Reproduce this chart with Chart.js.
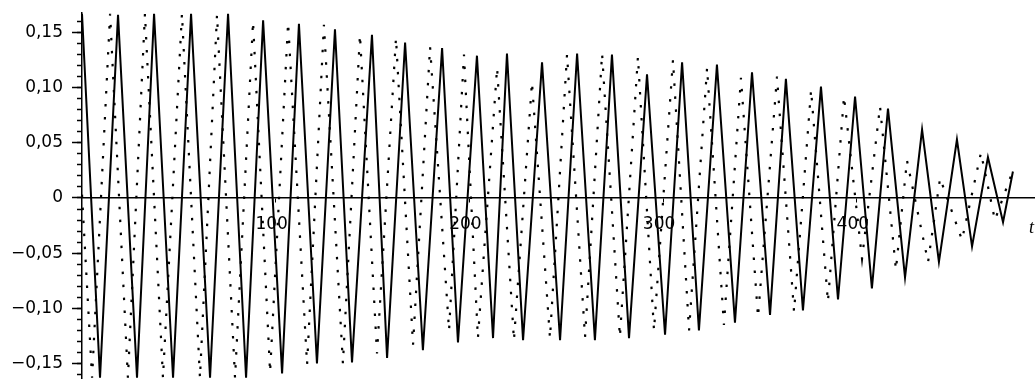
<!DOCTYPE html>
<html>
<head>
<meta charset="utf-8">
<script src="https://cdn.jsdelivr.net/npm/chart.js@4.4.1/dist/chart.umd.min.js"></script>
<style>
html,body{margin:0;padding:0;background:#fff;overflow:hidden}
canvas{display:block}
</style>
</head>
<body>
<canvas id="c" width="1035" height="379"></canvas>
<script>
// Solid curve: successive extrema (t, value)
const solidT = [0, 9.3, 18.6, 28.4, 37.2, 47.0, 56.3, 66.1, 75.4, 84.7, 93.5, 103.3, 112.0, 121.3, 130.6, 139.4, 149.7, 157.5, 166.8, 176.0, 185.9, 194.1, 203.9, 212.2, 219.4, 227.7, 237.5, 246.8, 255.6, 264.8, 273.6, 282.4, 291.7, 301.0, 309.8, 318.5, 327.8, 337.1, 345.9, 355.2, 363.4, 372.2, 381.5, 390.3, 399.1, 407.8, 416.1, 424.9, 433.7, 442.4, 451.7, 459.5, 467.7, 475.5, 480.6];
const solidV = [0.167, -0.163, 0.166, -0.163, 0.167, -0.163, 0.167, -0.163, 0.167, -0.163, 0.161, -0.159, 0.158, -0.150, 0.153, -0.149, 0.148, -0.145, 0.141, -0.138, 0.136, -0.131, 0.129, -0.127, 0.131, -0.129, 0.123, -0.129, 0.131, -0.129, 0.130, -0.127, 0.112, -0.124, 0.123, -0.120, 0.121, -0.113, 0.114, -0.106, 0.108, -0.102, 0.101, -0.092, 0.092, -0.082, 0.081, -0.072, 0.062, -0.058, 0.053, -0.044, 0.037, -0.022, 0.024];

// Dotted curve: successive extrema (t, value)
const dottedT = [0, 5.2, 14.5, 23.7, 32.5, 41.8, 51.6, 60.9, 69.7, 79.0, 88.3, 97.1, 106.4, 116.2, 124.9, 134.7, 143.5, 152.3, 162.1, 170.9, 179.7, 189.5, 197.2, 204.4, 214.3, 223.0, 232.3, 241.6, 250.4, 259.7, 268.5, 277.7, 287.0, 295.3, 305.1, 313.4, 322.7, 331.4, 340.2, 349.0, 358.8, 367.6, 376.4, 385.1, 393.4, 402.7, 412.0, 420.2, 425.9, 436.8, 443.0, 454.3, 464.1, 471.3, 480.6];
const dottedV = [0.003, -0.163, 0.167, -0.163, 0.167, -0.163, 0.167, -0.163, 0.166, -0.163, 0.160, -0.158, 0.159, -0.151, 0.157, -0.150, 0.148, -0.141, 0.145, -0.133, 0.137, -0.120, 0.130, -0.127, 0.118, -0.129, 0.105, -0.127, 0.130, -0.126, 0.131, -0.126, 0.128, -0.120, 0.125, -0.120, 0.118, -0.115, 0.109, -0.108, 0.110, -0.103, 0.098, -0.094, 0.092, -0.055, 0.083, -0.065, 0.034, -0.058, 0.018, -0.038, 0.041, -0.020, 0.025];

const xTicks = [100, 200, 300, 400];
const yMajorStep = 0.05;
const yMinorStep = 0.01;
const xAxisTitle = 't';

const fmtY = v => {
  const r = Math.round(v * 100) / 100;
  if (Math.abs(r) < 1e-9) return '0';
  return (r < 0 ? '\u2212' : '') + Math.abs(r).toFixed(2).replace('.', ',');
};

const toPts = (ts, vs) => ts.map((t, i) => ({x: t, y: vs[i]}));

const FONT = {family: '"DejaVu Sans", sans-serif', size: 17};

const titlePlugin = {
  id: 'tTitle',
  afterDraw(chart) {
    const ctx = chart.ctx;
    const y0 = chart.scales.y.getPixelForValue(0);
    ctx.save();
    ctx.font = 'italic 18px "Liberation Serif", serif';
    ctx.fillStyle = '#000';
    ctx.textAlign = 'right';
    ctx.textBaseline = 'middle';
    ctx.fillText(xAxisTitle, chart.chartArea.right - 1, y0 + 30);
    ctx.restore();
  }
};

const zeroPad = s => { s.paddingTop = 0; s.paddingBottom = 0; s.paddingLeft = 0; s.paddingRight = 0; };

new Chart(document.getElementById('c'), {
  type: 'line',
  data: {
    datasets: [
      {
        data: toPts(solidT, solidV),
        borderColor: '#000',
        borderWidth: 2,
        pointRadius: 0,
        tension: 0,
        fill: false
      },
      {
        data: toPts(dottedT, dottedV),
        borderColor: '#000',
        borderWidth: 2.2,
        borderDash: [2.5, 10.5],
        pointRadius: 0,
        tension: 0,
        fill: false
      }
    ]
  },
  options: {
    responsive: false,
    animation: false,
    devicePixelRatio: 1,
    events: [],
    layout: {padding: {left: 0, top: 13, right: 0, bottom: 0}},
    plugins: {legend: {display: false}, tooltip: {enabled: false}},
    scales: {
      x: {
        type: 'linear',
        min: 0,
        max: 492,
        position: {y: 0},
        afterFit: s => { s.height = 0; zeroPad(s); },
        afterBuildTicks: s => { s.ticks = xTicks.map(v => ({value: v})); },
        ticks: {
          autoSkip: false,
          maxRotation: 0,
          padding: 12,
          labelOffset: -4,
          color: '#000',
          font: FONT,
          callback: v => String(v)
        },
        grid: {drawOnChartArea: false, drawTicks: true, tickLength: 4, tickColor: '#000'},
        border: {display: true, color: '#000', width: 1.5}
      },
      y: {
        type: 'linear',
        position: 'left',
        weight: 1,
        min: -0.1641,
        max: 0.1677,
        afterFit: s => { s.width = 82; zeroPad(s); },
        ticks: {
          stepSize: yMajorStep,
          includeBounds: false,
          maxTicksLimit: 100,
          autoSkip: false,
          padding: 9,
          color: '#000',
          font: FONT,
          callback: v => fmtY(v)
        },
        grid: {drawOnChartArea: false, drawTicks: true, tickLength: 10, tickColor: '#000', tickWidth: 1.5},
        border: {display: true, color: '#000', width: 1.5}
      },
      y2: {
        type: 'linear',
        position: 'left',
        weight: 0,
        min: -0.1641,
        max: 0.1677,
        afterFit: s => { s.width = 0; zeroPad(s); },
        ticks: {
          stepSize: yMinorStep,
          includeBounds: false,
          maxTicksLimit: 100,
          autoSkip: false,
          display: false
        },
        grid: {drawOnChartArea: false, drawTicks: true, tickLength: 5, tickColor: '#000', tickWidth: 1.5},
        border: {display: false}
      }
    }
  },
  plugins: [titlePlugin]
});
</script>
</body>
</html>
